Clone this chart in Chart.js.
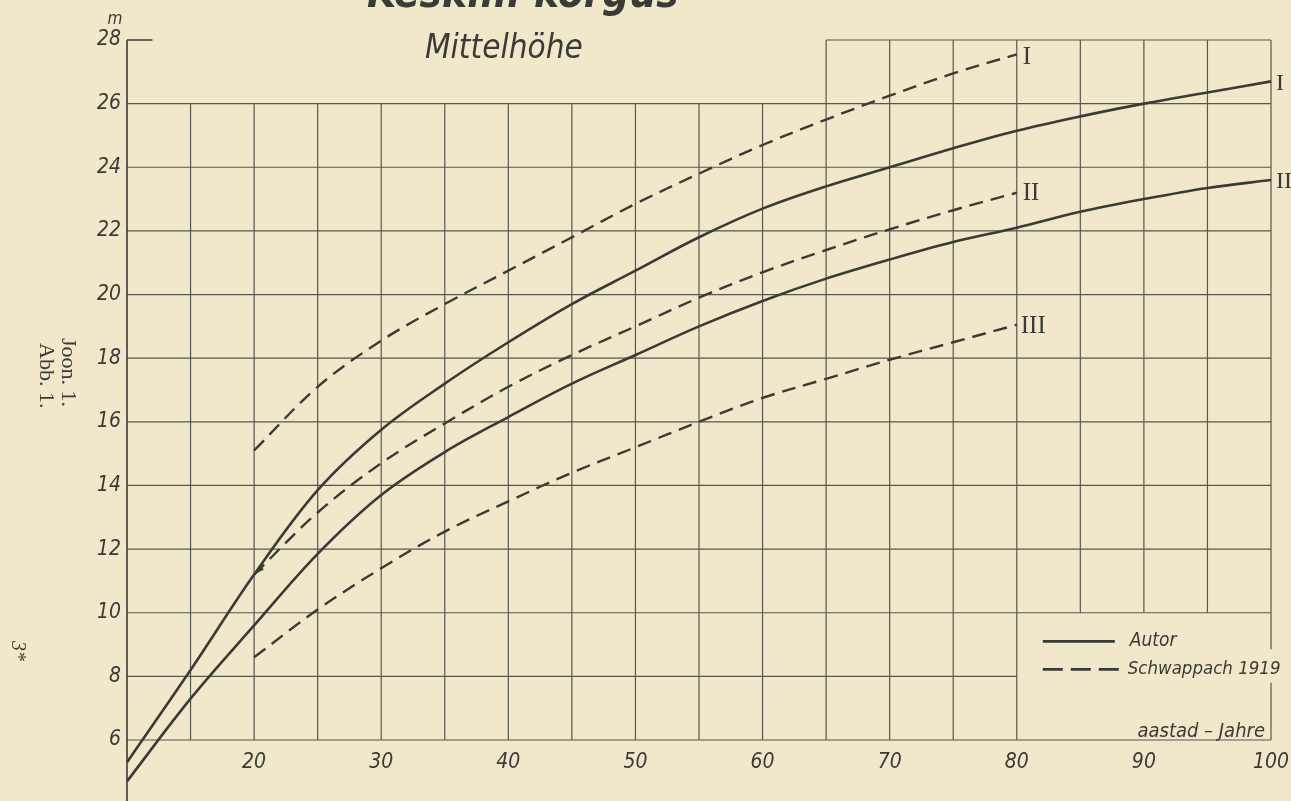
<!DOCTYPE html>
<html>
<head>
<meta charset="utf-8">
<title>Keskm. kõrgus – Mittelhöhe</title>
<style>
  body { margin: 0; background: #f1e8cc; }
  canvas { display: block; }
</style>
</head>
<body>
<script src="https://cdn.jsdelivr.net/npm/chart.js"></script>
<canvas id="heightChart" width="1291" height="801"></canvas>
<script>
// age (aastad / Jahre) and mean height in m
const ages = [10, 15, 20, 25, 30, 35, 40, 45, 50, 55, 60, 65, 70, 75, 80, 85, 90, 95, 100];
const autorI  = [5.3, 8.2, 11.2, 13.85, 15.75, 17.2, 18.5, 19.7, 20.75, 21.8, 22.7, 23.4, 24.0, 24.6, 25.15, 25.6, 26.0, 26.35, 26.7];
const autorII = [4.7, 7.3, 9.6, 11.85, 13.7, 15.05, 16.15, 17.2, 18.1, 19.0, 19.8, 20.5, 21.1, 21.65, 22.1, 22.6, 23.0, 23.35, 23.6];

const schwAges = [20, 25, 30, 35, 40, 45, 50, 55, 60, 65, 70, 75, 80];
const schwI   = [15.1, 17.1, 18.55, 19.7, 20.75, 21.8, 22.85, 23.8, 24.7, 25.5, 26.25, 26.95, 27.55];
const schwII  = [11.2, 13.15, 14.7, 15.95, 17.1, 18.1, 19.0, 19.9, 20.7, 21.4, 22.05, 22.65, 23.2];
const schwIII = [8.6, 10.1, 11.4, 12.55, 13.5, 14.4, 15.2, 16.0, 16.75, 17.35, 17.95, 18.5, 19.05];

const yTicks = [6, 8, 10, 12, 14, 16, 18, 20, 22, 24, 26, 28];
const xTickLabels = [20, 30, 40, 50, 60, 70, 80, 90, 100];

const ink = '#3a3b36';
const gridInk = '#55584e';
const letterFont = '"DejaVu Sans Condensed", "DejaVu Sans", sans-serif';
const serifFont = '"Liberation Serif", "DejaVu Serif", serif';

function pairs(xs, ys) {
  return xs.map((x, i) => ({ x: x, y: ys[i] }));
}

// paper grid: only the parts that are printed on the plate
const paperGrid = {
  id: 'paperGrid',
  beforeDatasetsDraw(chart) {
    const { ctx, scales: { x, y } } = chart;
    const px = v => x.getPixelForValue(v), py = v => y.getPixelForValue(v);
    ctx.save();
    ctx.strokeStyle = gridInk;
    ctx.lineWidth = 1.2;
    ctx.beginPath();
    for (let h = 6; h <= 26; h += 2) {
      const right = (h > 6 && h < 10) ? 80 : 100;
      ctx.moveTo(px(10), py(h));
      ctx.lineTo(px(right), py(h));
    }
    ctx.moveTo(px(65), py(28));
    ctx.lineTo(px(100), py(28));
    for (let a = 15; a < 100; a += 5) {
      const bottom = a > 80 ? 10 : 6;
      const top = a >= 65 ? 28 : 26;
      ctx.moveTo(px(a), py(bottom));
      ctx.lineTo(px(a), py(top));
    }
    // right border, broken where the legend text runs over it
    ctx.moveTo(px(100), py(28));
    ctx.lineTo(px(100), py(8.85));
    ctx.moveTo(px(100), py(7.8));
    ctx.lineTo(px(100), py(6));
    ctx.stroke();

    // y axis runs off the bottom of the page
    ctx.strokeStyle = ink;
    ctx.lineWidth = 1.6;
    ctx.beginPath();
    ctx.moveTo(px(10), py(28));
    ctx.lineTo(px(10), chart.height);
    ctx.moveTo(px(10), py(28));
    ctx.lineTo(px(12), py(28));
    ctx.stroke();
    ctx.restore();
  },
  afterDatasetsDraw(chart) {
    const { ctx, scales: { x, y } } = chart;
    const px = v => x.getPixelForValue(v), py = v => y.getPixelForValue(v);
    ctx.save();
    ctx.fillStyle = ink;

    // arrow head where Schwappach II meets the author's curve
    const tipX = px(schwAges[0]), tipY = py(schwII[0]);
    const ang = Math.atan2(py(schwII[1]) - tipY, px(schwAges[1]) - tipX);
    ctx.beginPath();
    ctx.moveTo(tipX, tipY);
    ctx.lineTo(tipX + 11 * Math.cos(ang - 0.3), tipY + 11 * Math.sin(ang - 0.3));
    ctx.lineTo(tipX + 11 * Math.cos(ang + 0.3), tipY + 11 * Math.sin(ang + 0.3));
    ctx.closePath();
    ctx.fill();

    // roman numerals at the curve ends
    ctx.textBaseline = 'middle';
    ctx.textAlign = 'left';
    const lastA = ages[ages.length - 1], lastS = schwAges[schwAges.length - 1];
    ctx.font = '24px ' + serifFont;
    ctx.fillText('I', px(lastA) + 5, py(autorI[autorI.length - 1]) + 2);
    ctx.fillText('II', px(lastA) + 5, py(autorII[autorII.length - 1]) + 2);
    ctx.font = '25px ' + serifFont;
    ctx.fillText('I', px(lastS) + 6, py(schwI[schwI.length - 1]) + 3);
    ctx.fillText('II', px(lastS) + 6, py(schwII[schwII.length - 1]) + 1);
    ctx.fillText('III', px(lastS) + 4, py(schwIII[schwIII.length - 1]) + 2);
    ctx.restore();
  },
  afterDraw(chart) {
    const { ctx, scales: { x, y } } = chart;
    const px = v => x.getPixelForValue(v), py = v => y.getPixelForValue(v);
    ctx.save();
    ctx.fillStyle = ink;
    ctx.strokeStyle = ink;

    // titles (the top line is cut off by the page edge)
    ctx.textAlign = 'left';
    ctx.textBaseline = 'alphabetic';
    ctx.font = 'italic bold 42px ' + letterFont;
    ctx.fillText('Keskm. kõrgus', 367, 7);
    ctx.font = 'italic 33px ' + letterFont;
    ctx.fillText('Mittelhöhe', 425, 58);

    // unit
    ctx.font = 'italic 17px ' + letterFont;
    ctx.textAlign = 'center';
    ctx.fillText('m', 115, 24);

    // legend
    const lx = px(80) + 26;
    ctx.lineWidth = 2.6;
    ctx.beginPath();
    ctx.moveTo(lx, py(9.1));
    ctx.lineTo(lx + 72, py(9.1));
    ctx.stroke();
    ctx.setLineDash([20, 8]);
    ctx.beginPath();
    ctx.moveTo(lx, py(8.22));
    ctx.lineTo(lx + 76, py(8.22));
    ctx.stroke();
    ctx.setLineDash([]);
    ctx.font = 'italic 19px ' + letterFont;
    ctx.textAlign = 'left';
    ctx.textBaseline = 'middle';
    ctx.fillText('Autor', lx + 87, py(9.1));
    ctx.font = 'italic 18.5px ' + letterFont;
    ctx.fillText('Schwappach 1919', lx + 85, py(8.22));
    ctx.font = 'italic 20px ' + letterFont;
    ctx.textAlign = 'right';
    ctx.textBaseline = 'alphabetic';
    ctx.fillText('aastad – Jahre', px(100) - 6, py(6) - 3);

    // side notes, set sideways
    ctx.textAlign = 'left';
    ctx.font = '22px ' + serifFont;
    [['Joon. 1.', 62, 338], ['Abb. 1.', 40, 343]].forEach(([t, bx, by]) => {
      ctx.save();
      ctx.translate(bx, by);
      ctx.rotate(Math.PI / 2);
      ctx.fillText(t, 0, 0);
      ctx.restore();
    });
    ctx.save();
    ctx.translate(12, 641);
    ctx.rotate(Math.PI / 2);
    ctx.font = 'italic 20px ' + serifFont;
    ctx.fillText('3*', 0, 0);
    ctx.restore();
    ctx.restore();
  }
};

const solid = { borderColor: ink, borderWidth: 2.6, pointRadius: 0, tension: 0.35, clip: false, fill: false };
const dashed = Object.assign({}, solid, { borderDash: [14, 8], borderWidth: 2.4 });

new Chart(document.getElementById('heightChart'), {
  type: 'line',
  data: {
    datasets: [
      Object.assign({ label: 'Autor I', data: pairs(ages, autorI) }, solid),
      Object.assign({ label: 'Autor II', data: pairs(ages, autorII) }, solid),
      Object.assign({ label: 'Schwappach 1919 I', data: pairs(schwAges, schwI) }, dashed),
      Object.assign({ label: 'Schwappach 1919 II', data: pairs(schwAges, schwII) }, dashed),
      Object.assign({ label: 'Schwappach 1919 III', data: pairs(schwAges, schwIII) }, dashed)
    ]
  },
  options: {
    responsive: false,
    animation: false,
    layout: { padding: { top: 40, right: 20, left: 0, bottom: 0 } },
    plugins: { legend: { display: false }, title: { display: false }, tooltip: { enabled: false } },
    scales: {
      x: {
        type: 'linear', min: 10, max: 100,
        grid: { display: false, drawTicks: false }, border: { display: false },
        afterFit: s => { s.height = 61; s.paddingLeft = 0; s.paddingRight = 0; },
        afterBuildTicks: s => { s.ticks = [10].concat(xTickLabels).map(v => ({ value: v })); },
        ticks: {
          color: ink, padding: 10, maxRotation: 0,
          font: { family: letterFont, size: 21, style: 'italic' },
          callback: v => (v === 10 ? '' : v)
        }
      },
      y: {
        type: 'linear', min: 6, max: 28,
        grid: { display: false, drawTicks: false }, border: { display: false },
        afterFit: s => { s.width = 127; s.paddingTop = 0; s.paddingBottom = 0; },
        afterBuildTicks: s => { s.ticks = yTicks.map(v => ({ value: v })); },
        ticks: {
          color: ink, padding: 6,
          font: { family: letterFont, size: 21, style: 'italic' }
        }
      }
    }
  },
  plugins: [paperGrid]
});
</script>
</body>
</html>
